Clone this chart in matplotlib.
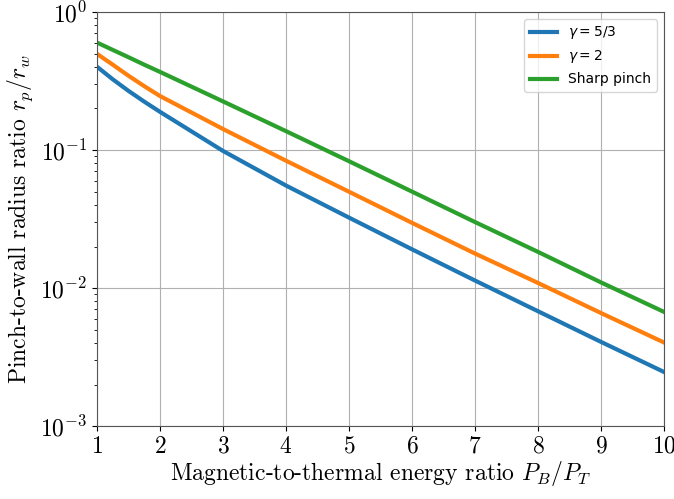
"""Radio de pinch vs relación de energías (magnética / térmica)."""
import numpy as np
import matplotlib
matplotlib.use('Agg')
import matplotlib.pyplot as plt
from matplotlib.font_manager import FontProperties

plt.rcParams['font.family'] = 'cmr10'
plt.rcParams['mathtext.fontset'] = 'cm'
plt.rcParams['axes.formatter.use_mathtext'] = True
plt.rcParams['axes.unicode_minus'] = False

# Valores
PB_PT = [1, 1.25, 1.5, 1.75, 2, 3, 4, 5, 6, 7, 8, 9, 10]
r_53 = [0.401, 0.325, 0.268, 0.224, 0.189, 0.0985, 0.0553, 0.0324, 0.0191, 0.01135, 0.0068, 0.00408, 0.00247]
r_2 = [0.497, 0.415, 0.345, 0.290, 0.246, 0.142, 0.0837, 0.0499, 0.0297, 0.0178, 0.0109, 0.00660, 0.00404]
r_sharp = [0.600, 0.531, 0.470, 0.415, 0.368, 0.225, 0.137, 0.0830, 0.0500, 0.0301, 0.0183, 0.0110, 0.00673]

etiquetas = [r'$\gamma = 5/3$', r'$\gamma = 2$', 'Sharp pinch']
colores = ['#1f77b4', '#ff7f0e', '#2ca02c']

fig = plt.figure(figsize=(6.74, 4.99), dpi=100)
ax = fig.add_axes([0.144, 0.146, 0.841, 0.830])

for r, lab, c in zip([r_53, r_2, r_sharp], etiquetas, colores):
    ax.plot(PB_PT, r, color=c, lw=3, label=lab)

ax.set_yscale('log')
ax.set_xlim(1, 10)
ax.set_ylim(1e-3, 1e0)
ax.set_xticks(range(1, 11))
ax.grid(True, which='major', color='#b0b0b0', lw=0.8)
ax.tick_params(labelsize=17)
for sp in ax.spines.values():
    sp.set_color('#555555')

ax.set_xlabel(r'Magnetic-to-thermal energy ratio $P_B/P_T$', fontsize=17, labelpad=1)
ax.set_ylabel(r'Pinch-to-wall radius ratio $r_p/r_w$', fontsize=17)

prop = FontProperties(family='DejaVu Sans', size=10, math_fontfamily='dejavusans')
ax.legend(loc='upper right', prop=prop)

fig.savefig('out.png', dpi=100)
